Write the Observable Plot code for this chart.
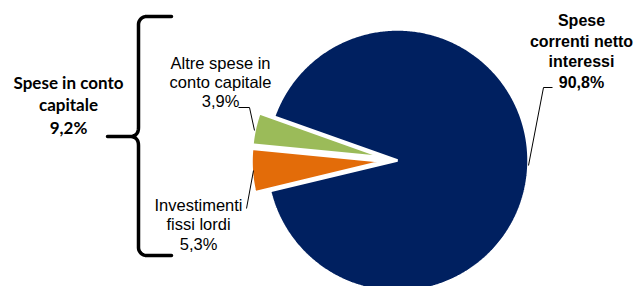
<!DOCTYPE html>
<html><head><meta charset="utf-8">
<script src="https://cdn.jsdelivr.net/npm/d3@7"></script>
<script src="https://cdn.jsdelivr.net/npm/@observablehq/plot@0.6"></script>
<style>
html,body{margin:0;padding:0;background:#fff;}
</style>
</head><body><div id="chart"></div>
<script>
// ---- data ----
const categories = ["Spese correnti netto interessi", "Investimenti fissi lordi", "Altre spese in conto capitale"];
const values = [90.8, 5.3, 3.9];
const sliceLabels = ["Spese\ncorrenti netto\ninteressi\n90,8%", "Investimenti\nfissi lordi\n5,3%", "Altre spese in\nconto capitale\n3,9%"];
const colors = ["#002060", "#E36C09", "#9BBB59"];
const exploded = [false, true, true];
const groupLabel = "Spese in conto\ncapitale\n9,2%";

// ---- layout (pixels) ----
const W = 639, H = 286, CX = 397, CY = 160, R = 131;
const startDeg = -70.4;
const explodePx = 15;
const X = px => (px - CX) / R;
const Y = py => (CY - py) / R;

const pie = d3.pie().sort(null)
  .startAngle(startDeg * Math.PI / 180)
  .endAngle(startDeg * Math.PI / 180 + 2 * Math.PI);
const arcs = pie(values);
const slicePts = [];
arcs.forEach((a, i) => {
  const mid = (a.startAngle + a.endAngle) / 2;
  const off = exploded[i] ? explodePx / R : 0;
  const ox = off * Math.sin(mid), oy = off * Math.cos(mid);
  slicePts.push({name: categories[i], x: ox, y: oy});
  const n = Math.max(2, Math.ceil((a.endAngle - a.startAngle) / 0.01));
  for (let k = 0; k <= n; k++) {
    const t = a.startAngle + (a.endAngle - a.startAngle) * k / n;
    slicePts.push({name: categories[i], x: ox + Math.sin(t), y: oy + Math.cos(t)});
  }
});

// label layout: center x, first baseline, font
const ARIAL = "'Liberation Sans', Arial, sans-serif";
const labelLayout = [
  {text: sliceLabels[0], x: 581, b1: 26, fs: 16, lh: 1.28, family: ARIAL, weight: "bold", ls: 1.0, id: "lab0"},
  {text: sliceLabels[1], x: 198, b1: 210, fs: 16.5, lh: 1.21, family: ARIAL, weight: "normal", ls: 0.3, id: "lab1"},
  {text: sliceLabels[2], x: 220, b1: 68, fs: 16.5, lh: 1.18, family: ARIAL, weight: "normal", ls: 0.4, id: "lab2"},
  {text: groupLabel, x: 68, b1: 88, fs: 17, lh: 1.35, family: "Lato, 'Open Sans', sans-serif", weight: "bold", ls: 0.2, id: "labG"}
];

// leader lines (pixels)
const leaders = [
  {id: 0, pts: [[528,165],[543,87],[552,87]]},
  {id: 1, pts: [[253,170],[246,208]]},
  {id: 2, pts: [[238,107],[249,107],[254,130]]}
];
const leaderPts = leaders.flatMap(l => l.pts.map(([px,py]) => ({id: l.id, x: X(px), y: Y(py)})));

// brace (pixels)
function bracePoints() {
  const bx = 138, top = 16, bot = 255, mid = 136, tip = 107, arm = 171, r = 8, q = 9;
  const pts = [];
  const push = (x, y) => pts.push({x: X(x), y: Y(y)});
  push(arm, top);
  for (let k = 0; k <= 10; k++) { const t = -Math.PI/2 - (Math.PI/2) * k / 10; push(bx + r + r*Math.cos(t), top + r + r*Math.sin(t)); }
  const quad = (p0, p1, p2) => { for (let k = 0; k <= 10; k++) { const t = k/10; push((1-t)*(1-t)*p0[0]+2*(1-t)*t*p1[0]+t*t*p2[0], (1-t)*(1-t)*p0[1]+2*(1-t)*t*p1[1]+t*t*p2[1]); } };
  quad([bx, mid - q], [bx, mid], [bx - q, mid]);
  push(tip, mid);
  push(bx - q, mid);
  quad([bx - q, mid], [bx, mid], [bx, mid + q]);
  for (let k = 0; k <= 10; k++) { const t = Math.PI - (Math.PI/2) * k / 10; push(bx + r + r*Math.cos(t), bot - r + r*Math.sin(t)); }
  push(arm, bot);
  return pts;
}

const marks = [
  Plot.line(slicePts, {x: "x", y: "y", z: "name", fill: d => colors[categories.indexOf(d.name)], stroke: "white", strokeWidth: 2.5, curve: "linear-closed", strokeLinejoin: "miter"}),
  Plot.line(leaderPts, {x: "x", y: "y", z: "id", stroke: "black", strokeWidth: 1, strokeLinejoin: "miter", strokeLinecap: "butt"}),
  Plot.line(bracePoints(), {x: "x", y: "y", stroke: "black", strokeWidth: 3.5}),
  ...labelLayout.map(l => Plot.text([l], {
    x: d => X(d.x), y: d => Y(d.b1 - 0.71 * d.lh * d.fs),
    text: "text", lineAnchor: "top", textAnchor: "middle",
    fontSize: l.fs, fontWeight: l.weight, fontFamily: l.family, lineHeight: l.lh,
    fill: "black", ariaLabel: l.id
  }))
];

const chart = Plot.plot({
  width: W, height: H, margin: 0,
  x: {domain: [X(0), X(W)], axis: null},
  y: {domain: [Y(H), Y(0)], axis: null},
  style: {background: "white", overflow: "visible"},
  marks
});
labelLayout.forEach(l => {
  d3.select(chart).selectAll(`g[aria-label="${l.id}"] text`).style("letter-spacing", l.ls + "px");
});
document.getElementById("chart").appendChild(chart);
</script>
</body></html>
